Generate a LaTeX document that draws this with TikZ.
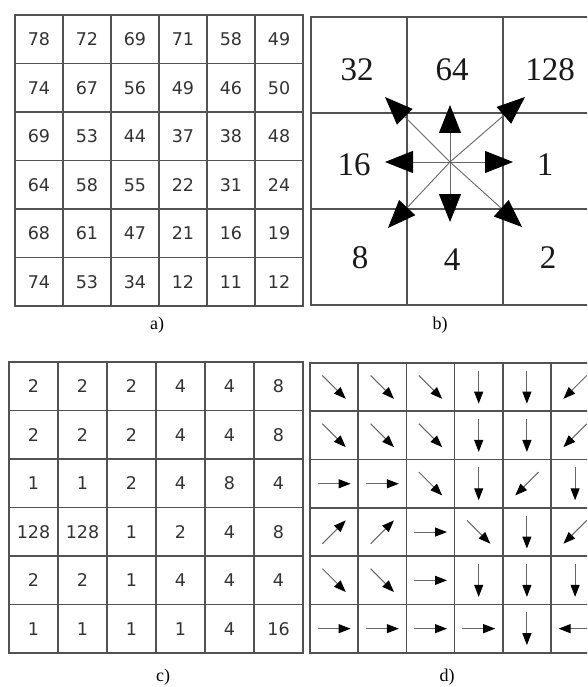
\documentclass[tikz,border=0pt]{standalone}
\usepackage{fontspec}
\setmainfont{Liberation Serif}
\newfontfamily\cellfont{DejaVu Sans}
\usepackage{tikz}
\usetikzlibrary{arrows.meta,positioning,calc}

\tikzset{
  gridline/.style={line width=1.7pt,draw=black!68,line cap=rect},
  cellnum/.style={font=\cellfont\fontsize{17.5}{17.5}\selectfont,text=black!80},
  bignum/.style={font=\fontsize{33}{33}\selectfont,text=black!90},
  panellabel/.style={font=\fontsize{18}{18}\selectfont},
  bigarrow/.style={draw=black!60,line width=0.9pt,-{Triangle[length=28pt,width=22pt,color=black]}},
  dirarrow/.style={draw=black!60,line width=1pt,-{Triangle[length=12pt,width=9pt,color=black]}}
}

\begin{document}
\begin{tikzpicture}[x=1pt,y=-1pt]
\clip (0,0) rectangle (587,687);
\fill[white] (0,0) rectangle (587,687);

% a) values
\foreach \row [count=\r] in {{78,72,69,71,58,49},{74,67,56,49,46,50},{69,53,44,37,38,48},
    {64,58,55,22,31,24},{68,61,47,21,16,19},{74,53,34,12,11,12}}
  \foreach \v [count=\c] in \row
    \node[cellnum] (a-\r-\c) at ({15+48*(\c-0.5)},{15+48.5*(\r-0.5)}) {\v};
\foreach \i in {0,...,6} {
  \draw[gridline] ({15+48*\i},15) -- ({15+48*\i},306);
  \draw[gridline] (15,{15+48.5*\i}) -- (303,{15+48.5*\i});
}
\node[panellabel] (lab-a) at (157,325) {a)};

% b) direction codes
\foreach \i in {0,...,3} {
  \draw[gridline] ({311+96*\i},17) -- ({311+96*\i},305);
  \draw[gridline] (311,{17+96*\i}) -- (599,{17+96*\i});
}
\node[bignum] (b-nw) at (357,70) {32};
\node[bignum] (b-n) at (452,70) {64};
\node[bignum] (b-ne) at (550,70) {128};
\node[bignum] (b-w) at (354,165) {16};
\node[bignum] (b-e) at (545,165) {1};
\node[bignum] (b-sw) at (360,258) {8};
\node[bignum] (b-s) at (452,260) {4};
\node[bignum] (b-se) at (548,258) {2};
\coordinate (ctr) at (450,162);
\coordinate (tip-n) at (450,105);
\coordinate (tip-s) at (450,222);
\coordinate (tip-w) at (385,162);
\coordinate (tip-e) at (513,162);
\coordinate (tip-nw) at (385,97);
\coordinate (tip-ne) at (525,97);
\coordinate (tip-sw) at (388,228);
\coordinate (tip-se) at (522,227);
\foreach \d in {n,s,w,e,nw,ne,sw,se}
  \draw[bigarrow] (ctr) -- (tip-\d);
\node[panellabel] (lab-b) at (440,325) {b)};

% c) flow direction values
\foreach \row [count=\r] in {{2,2,2,4,4,8},{2,2,2,4,4,8},{1,1,2,4,8,4},
    {128,128,1,2,4,8},{2,2,1,4,4,4},{1,1,1,1,4,16}}
  \foreach \v [count=\c] in \row
    \node[cellnum] (c-\r-\c) at ({9+49*(\c-0.5)},{362+48.5*(\r-0.5)}) {\v};
\foreach \i in {0,...,6} {
  \draw[gridline] ({9+49*\i},362) -- ({9+49*\i},653);
  \draw[gridline] (9,{362+48.5*\i}) -- (303,{362+48.5*\i});
}
\node[panellabel] (lab-c) at (163,677) {c)};

% d) flow arrows (angles, y pointing down)
\foreach \row [count=\r] in {{45,45,45,90,90,135},{45,45,45,90,90,135},{0,0,45,90,135,90},
    {-45,-45,0,45,90,135},{45,45,0,90,90,90},{0,0,0,0,90,180}}
  \foreach \ang [count=\c] in \row {
    \coordinate (d-\r-\c) at ({310+48.2*(\c-0.5)},{363+48.3*(\r-0.5)});
    \draw[dirarrow] ($(d-\r-\c)+(\ang+180:16.5)$) -- ($(d-\r-\c)+(\ang:16.5)$);
  }
\foreach \i in {0,...,6} {
  \draw[gridline] ({310+48.2*\i},363) -- ({310+48.2*\i},653);
  \draw[gridline] (310,{363+48.3*\i}) -- (599,{363+48.3*\i});
}
\node[panellabel] (lab-d) at (447,677) {d)};
\end{tikzpicture}
\end{document}
